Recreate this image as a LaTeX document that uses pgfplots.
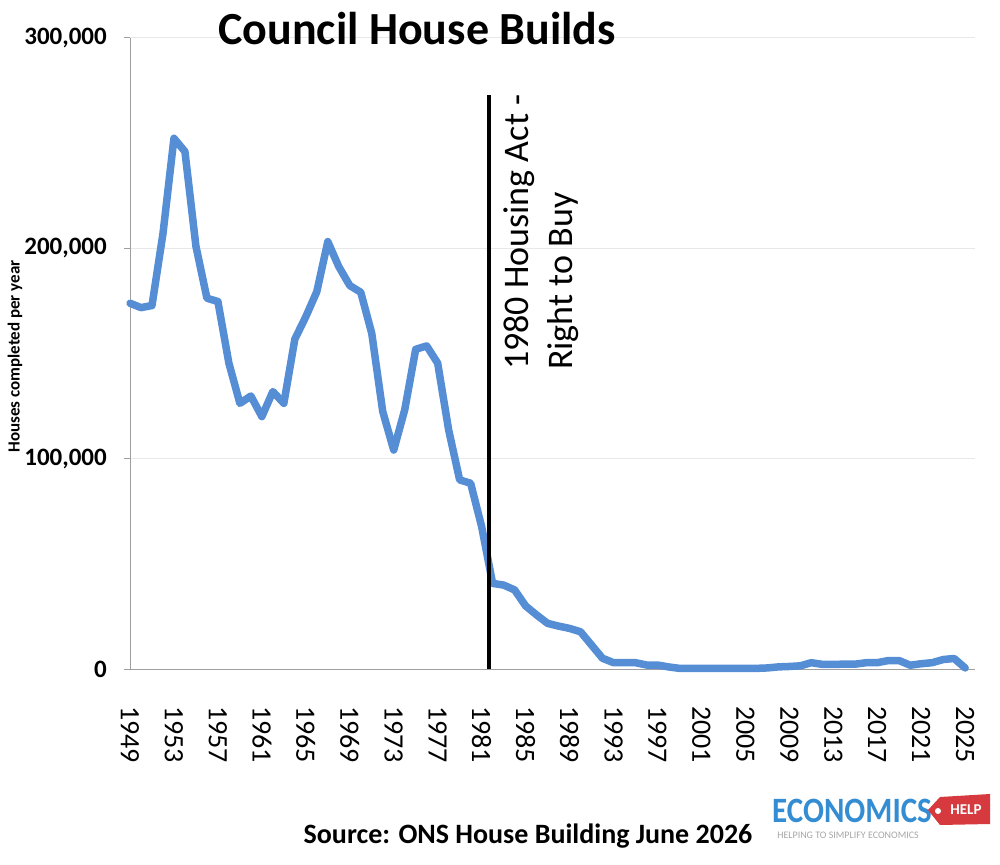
\documentclass[border=0pt]{standalone}
\usepackage{fontspec}
\setmainfont{Carlito}
\usepackage{pgfplots}
\pgfplotsset{compat=1.18}
\definecolor{lineblue}{RGB}{85,142,213}
\definecolor{logoblue}{RGB}{52,140,210}
\definecolor{logored}{RGB}{214,58,62}
\begin{document}
\begin{tikzpicture}[x=1pt,y=1pt]
\useasboundingbox (0,0) rectangle (1000,864);
\begin{axis}[
  at={(130pt,195pt)}, anchor=south west,
  scale only axis, width=845pt, height=631pt,
  xmin=1949, xmax=2025.9, ymin=0, ymax=300000,
  axis lines*=left,
  axis line style={draw=gray!75, line width=1pt},
  xtick={1949,1953,1957,1961,1965,1969,1973,1977,1981,1985,1989,1993,1997,2001,2005,2009,2013,2017,2021,2025},
  xticklabels={1949,1953,1957,1961,1965,1969,1973,1977,1981,1985,1989,1993,1997,2001,2005,2009,2013,2017,2021,2025},
  xtick style={draw=none},
  xticklabel style={rotate=-90, anchor=west, inner sep=0pt, font=\fontsize{28}{28}\selectfont},
  xticklabel shift=31pt,
  ytick={0,100000,200000,300000},
  yticklabels={0,{100,000},{200,000},{300,000}},
  scaled y ticks=false,
  tick align=outside,
  major tick length=6pt,
  ytick style={draw=gray!75, line width=1pt},
  yticklabel style={inner sep=0pt, xshift=-17pt, font=\bfseries\fontsize{25}{25}\selectfont},
  ymajorgrids,
  grid style={draw=gray!18, line width=1pt},
  clip=false,
]
\addplot[lineblue, line width=7.5pt, line join=round, line cap=round] coordinates {
(1949,173900) (1950,171800) (1951,172800) (1952,207000) (1953,252300)
(1954,246000) (1955,201000) (1956,176300) (1957,174700) (1958,145400)
(1959,126300) (1960,129800) (1961,120000) (1962,131900) (1963,126300)
(1964,156800) (1965,167500) (1966,179400) (1967,203200) (1968,191300)
(1969,182300) (1970,179100) (1971,159600) (1972,122400) (1973,104100)
(1974,123200) (1975,152000) (1976,153600) (1977,145400) (1978,113600)
(1979,89900) (1980,88300) (1981,67700) (1982,40700) (1983,39900)
(1984,37600) (1985,30000) (1986,25700) (1987,21700) (1988,20400)
(1989,19300) (1990,17700) (1991,11400) (1992,5100) (1993,3000)
(1994,3000) (1995,3000) (1996,1900) (1997,1900) (1998,1000)
(1999,300) (2000,300) (2001,300) (2002,300) (2003,300)
(2004,300) (2005,300) (2006,300) (2007,500) (2008,1000)
(2009,1200) (2010,1500) (2011,3000) (2012,2200) (2013,2200)
(2014,2300) (2015,2300) (2016,3000) (2017,3000) (2018,4000)
(2019,4000) (2020,1800) (2021,2500) (2022,3000) (2023,4500)
(2024,5000) (2025,500)
};
\addplot[black, line width=4pt] coordinates {(1981.67,0) (1981.67,273000)};
\end{axis}
% y label
\node[rotate=90, font=\bfseries\fontsize{17}{17}\selectfont, inner sep=0pt] at (15,507.5) {Houses completed per year};
% title
\node[anchor=base, font=\bfseries\fontsize{46}{46}\selectfont, inner sep=0pt] at (417,819) {Council House Builds};
% annotation
\node[rotate=90, anchor=base west, align=left, inner sep=0pt, font=\fontsize{36}{44}\selectfont] at (572,494) {1980 Housing Act -\\Right to Buy};
% source
\node[anchor=base, font=\bfseries\fontsize{28}{28}\selectfont, inner sep=0pt] at (528,21) {Source: ONS House Building June 2026};
% logo
\node[font=\bfseries\fontsize{31}{31}\selectfont, text=logoblue, inner sep=0pt] at (852,53) {\scalebox{1}[1.15]{ECONOMICS}};
\fill[logored] (928,54) -- (940,67) -- (990,70) -- (990,40) -- (940,39) -- cycle;
\fill[white] (938,53) circle (3);
\node[font=\bfseries\fontsize{15}{15}\selectfont, text=white, inner sep=0pt] at (966,54) {HELP};
\node[font=\fontsize{10}{10}\selectfont, text=gray!70, inner sep=0pt] at (848,29) {HELPING TO SIMPLIFY ECONOMICS};
\end{tikzpicture}
\end{document}
